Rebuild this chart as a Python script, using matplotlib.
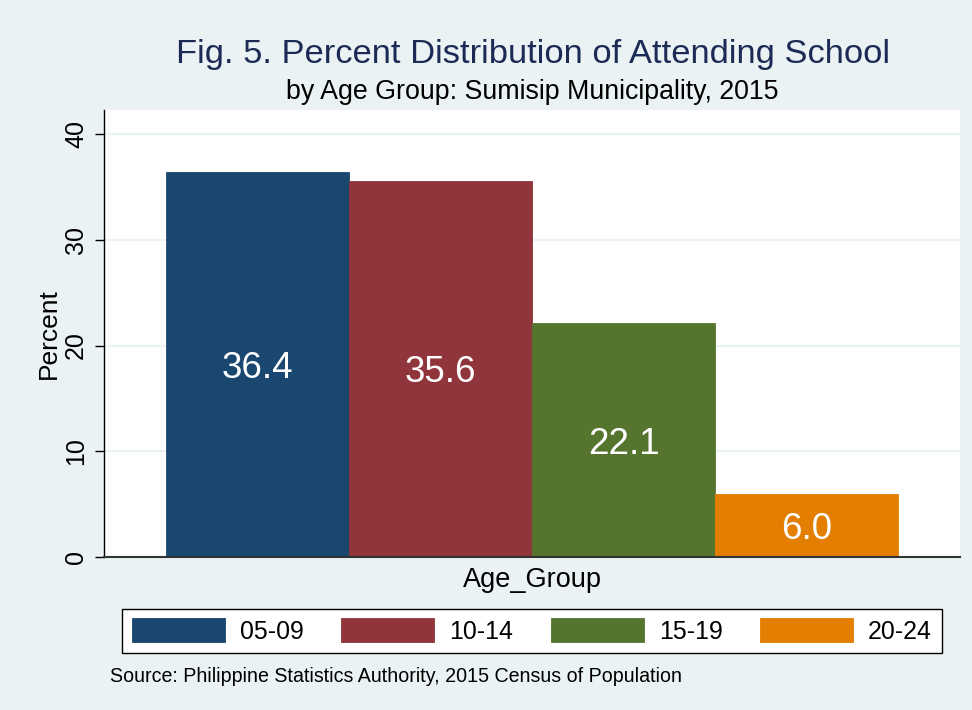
import matplotlib
matplotlib.use("Agg")
import matplotlib.pyplot as plt

plt.rcParams['font.family'] = ['Liberation Sans', 'DejaVu Sans']

age_groups = ["05-09", "10-14", "15-19", "20-24"]
percents = [36.4, 35.6, 22.1, 6.0]
colors = ["#1A476F", "#90353B", "#55752F", "#E37E00"]
yticks = [0, 10, 20, 30, 40]

W, H = 972, 710
fig = plt.figure(figsize=(W / 100, H / 100), dpi=100)
fig.patch.set_facecolor("#EAF2F3")

L, R, T, B = 104, 960, 110, 557
ax = fig.add_axes([L / W, 1 - B / H, (R - L) / W, (B - T) / H])
ax.set_facecolor("white")

handles = []
for i, (g, v, c) in enumerate(zip(age_groups, percents, colors)):
    b = ax.bar(i, v, width=1.0, color=c, edgecolor=c, linewidth=0.6, label=g, zorder=3)
    handles.append(b)
    ax.annotate(f"{v:.1f}", xy=(i, v / 2), xytext=(0, -3), textcoords="offset points",
                ha="center", va="center", color="white", fontsize=26.5, zorder=4)

ax.set_xlim(-0.839, 3.839)
ax.set_ylim(0, 42.27)
ax.set_yticks(yticks)
ax.set_yticklabels([str(t) for t in yticks], rotation=90, va="center", fontsize=18)
ax.tick_params(axis="y", direction="out", length=6.5, width=1, pad=5, color="black")
ax.tick_params(axis="x", bottom=False, labelbottom=False)
ax.grid(axis="y", color="#EAF2F3", linewidth=1.6, zorder=0)
ax.set_axisbelow(True)

for s in ["top", "right"]:
    ax.spines[s].set_visible(False)
ax.spines["left"].set_color("black")
ax.spines["left"].set_linewidth(1.0)
ax.spines["bottom"].set_color("#333333")
ax.spines["bottom"].set_linewidth(1.5)
ax.spines["bottom"].set_zorder(5)

ax.set_ylabel("Percent", fontsize=19, labelpad=2)
ax.set_xlabel("Age_Group", fontsize=19.5, labelpad=7)

fig.text(533 / W, 1 - 54 / H, "Fig. 5. Percent Distribution of Attending School",
         ha="center", va="center", fontsize=24.8, color="#1C2A56")
fig.text(532 / W, 1 - 92 / H, "by Age Group: Sumisip Municipality, 2015",
         ha="center", va="center", fontsize=19.3, color="black")
fig.text(110 / W, 1 - 676 / H, "Source: Philippine Statistics Authority, 2015 Census of Population",
         ha="left", va="center", fontsize=14.1, color="black")

leg = fig.legend(handles=handles, labels=age_groups, loc="center",
                 bbox_to_anchor=((123 + 941) / 2 / W, 1 - 631 / H),
                 ncol=4, fontsize=17.9, frameon=True, fancybox=False, framealpha=1,
                 handlelength=3.73, handleheight=1.05, handletextpad=0.6,
                 columnspacing=1.53, borderpad=0.4)
leg.get_frame().set_edgecolor("black")
leg.get_frame().set_linewidth(1.0)
leg.get_frame().set_facecolor("white")

fig.savefig("out.png", dpi=100, facecolor=fig.get_facecolor())
